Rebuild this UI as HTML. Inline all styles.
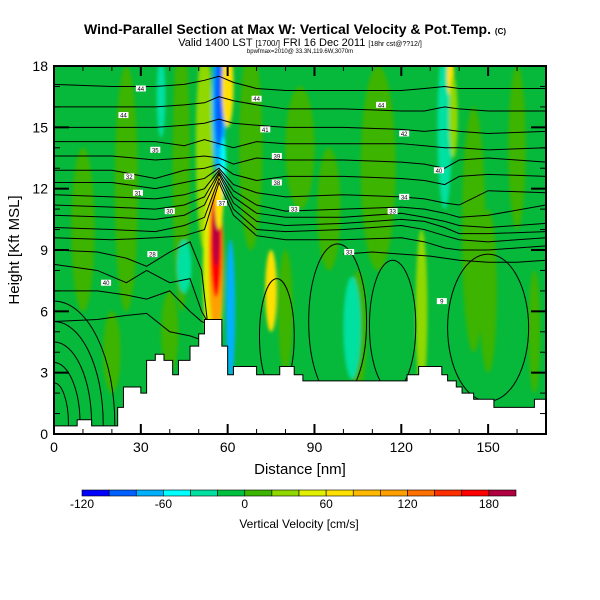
<!DOCTYPE html>
<html><head><meta charset="utf-8"><style>
body{margin:0;background:#fff;}
svg{display:block;font-family:"Liberation Sans",Arial,sans-serif;}
</style></head><body>
<svg id="chart" width="600" height="600" viewBox="0 0 600 600">
<defs>
<clipPath id="plotclip"><rect x="54" y="66" width="492" height="368"/></clipPath>
<filter id="blur" x="-50%" y="-50%" width="200%" height="200%"><feGaussianBlur stdDeviation="1.5"/></filter>
</defs>
<text x="295" y="34" text-anchor="middle" font-size="14" font-weight="bold">Wind-Parallel Section at Max W: Vertical Velocity &amp; Pot.Temp. <tspan font-size="8">(C)</tspan></text>
<text x="300" y="46" text-anchor="middle" font-size="11">Valid 1400 LST <tspan font-size="8">[1700/]</tspan> FRI 16 Dec 2011 <tspan font-size="7">[18hr cst@??12/]</tspan></text>
<text x="300" y="53" text-anchor="middle" font-size="6">bpwfmax=2010@ 33.3N,119.6W,3070m</text>
<g id="field" clip-path="url(#plotclip)">
<rect x="54" y="66" width="492" height="368" fill="#06b93a"/>
<g id="blobs" filter="url(#blur)"></g>
</g>
<g id="contours" clip-path="url(#plotclip)"></g>
<polygon id="terrain" fill="#fff" stroke="#000" stroke-width="1"/>
<g id="labels"></g>
<rect x="54" y="66" width="492" height="368" fill="none" stroke="#000" stroke-width="2"/>
<g id="axes"></g>
<text x="300" y="474" text-anchor="middle" font-size="15">Distance [nm]</text>
<text transform="translate(19,250) rotate(-90)" text-anchor="middle" font-size="15">Height [Kft MSL]</text>
<g id="colorbar"></g>
<text x="299" y="528" text-anchor="middle" font-size="12">Vertical Velocity [cm/s]</text>
</svg>
<script>
const NS="http://www.w3.org/2000/svg";
// data arrays
const xTicks=[0,30,60,90,120,150];
const yTicks=[0,3,6,9,12,15,18];
const cbBounds=[-120,-100,-80,-60,-40,-20,0,20,40,60,80,100,120,140,160,180];
const cbColors=["#0000ff","#0060ff","#00b0ff","#00ffff","#00e0a0","#00c040","#3cb400","#90d800","#e0f000","#ffe000","#ffb800","#ffa000","#ff7000","#ff3000","#ff0000","#b00040"];
const cbLabels=[-120,-60,0,60,120,180];
// velocity blobs: x nm, height kft, half-width nm, half-height kft, value cm/s
const blobX=[25,44,52,68,80,85,105,112,127,145,160,166,40,20,45,103,135,37,61,57,57,58.5,55,56,56,56,57,60,75,137,138,10,95,150];
const blobY=[12,13,14,14,6,14,5,13,6,10,14,5,5,4,8.2,5.2,15,16.5,6,16,16.5,13,8,8.5,9.3,9.8,11.5,17,7,17.5,15.5,10,11,7];
const blobW=[4,3,3,4,2.5,5,3,6,2,4,3,2,3,3,2.5,3,2.5,1.5,1.6,2.4,1.4,1,3.5,2.6,2,1.1,1.5,2,2,1.2,1.5,4,4,3];
const blobH=[6,7,5,5,3,3,3,5,4,6,4,3,2,2,1.3,2.5,4,2,3.5,3.5,2.5,1.5,4.5,3.6,2.6,1.6,1.5,2,2,1,2,4,3,4];
const blobV=[10,10,25,10,15,10,10,10,30,10,10,10,15,10,-30,-30,-40,-30,-70,-70,-100,-60,40,110,170,190,60,60,60,70,30,10,10,10];
// theta contour lines: heights (kft) at contourXs
const contourXs=[0,20,35,45,52,57,62,70,80,100,120,128,135,140,150,170];
const L1=[17.1,17.0,17.0,17.1,17.3,17.5,17.2,16.9,16.8,16.8,16.8,16.9,17.0,16.9,16.9,16.9];
const L2=[16.0,16.0,16.0,16.1,16.2,16.5,16.3,16.1,15.9,15.9,15.8,15.8,16.0,15.9,15.8,15.8];
const L3=[15.0,15.0,15.0,15.1,15.2,15.4,15.2,15.1,15.0,15.0,14.9,14.8,14.9,14.8,14.7,14.8];
const L4=[14.3,14.3,14.3,14.1,14.4,14.2,14.0,14.3,14.2,14.2,14.2,14.1,14.0,14.0,13.9,14.0];
const L5=[13.6,13.6,13.4,13.5,13.6,13.5,13.2,13.5,13.4,13.4,13.3,13.2,13.0,13.4,13.5,13.3];
const L6=[12.9,12.9,12.5,12.9,13.0,13.2,12.7,12.4,12.6,12.6,12.5,12.4,12.2,12.6,12.7,12.6];
const L7=[12.3,12.3,12.0,12.3,12.5,13.0,12.2,11.8,11.6,11.7,11.6,11.5,11.3,11.2,11.9,11.8];
const L8=[11.7,11.6,11.5,11.7,12.0,12.9,11.9,11.2,10.9,11.0,11.1,11.0,10.8,10.6,10.7,11.2];
const L9=[11.2,11.1,11.0,11.2,11.6,12.8,11.6,10.8,10.6,10.6,10.8,10.6,10.4,10.2,10.1,10.3];
const L10=[10.7,10.6,10.5,10.7,11.2,12.7,11.3,10.4,10.2,10.3,10.5,10.4,10.1,9.8,9.8,9.9];
const L11=[10.1,10.0,9.9,10.2,10.6,12.5,11.0,10.0,9.9,10.0,10.2,10.0,9.7,9.5,9.4,9.6];
const L12=[9.6,9.5,9.6,9.7,10.0,12.3,10.7,9.7,9.5,9.5,9.6,9.4,9.1,9.0,9.0,9.2];
const lowerXs=[0,15,25,32,40,47,51,53];
const L13=[9.0,8.9,8.6,8.2,8.9,9.4,8.0,5.5];
const L14=[8.3,8.0,7.4,8.0,7.4,7.6,6.0,5.5];
const L15=[7.0,7.0,6.8,6.6,7.0,6.0,5.5,5.4];
const L16=[5.5,5.6,5.8,5.9,5.0,4.8,4.6,4.5];
const rightXs=[100,110,120,130,140,150,160,170];
const R1=[8.8,8.9,8.8,8.7,8.5,8.4,8.4,8.5];
// closed loops: x, kft, half-width nm, half-height kft
const loopX=[77,98,117,150,0,0,0,0,0];
const loopY=[4.8,5.5,5.3,5.2,0.5,0.5,0.5,0.5,0.5];
const loopW=[6,10,8,14,5,9,13,17,21];
const loopH=[2.8,3.8,3.2,3.6,2,3,4,5,6];
// terrain heights (kft) at step edges
const terrX=[0,8,13,20,22,24,30,32,35,38,41,43,47,50,52,58,60,62,70,78,83,86,122,126,134,136,139,141,145,152,166,170];
const terrY=[0.4,0.7,0.4,0.4,1.3,2.3,2.0,3.6,3.9,3.6,2.9,3.6,4.3,4.9,5.6,4.3,2.9,3.3,2.9,3.3,2.9,2.6,2.9,3.3,2.9,2.6,2.3,2.0,1.7,1.3,1.7,1.3];
const labelX=[30,24,35,26,29,40,34,18,70,73,77,77,58,83,102,113,121,121,117,133,134];
const labelY=[16.9,15.6,13.9,12.6,11.8,10.9,8.8,7.4,16.4,14.9,13.6,12.3,11.3,11.0,8.9,16.1,14.7,11.6,10.9,12.9,6.5];
const labelT=["44","44","35","32","31","30","28","40","44","41","39","38","37","33","33","44","42","34","33","40","9"];

const X=v=>54+v*492/170, Y=v=>434-v*368/18;
function cbColor(v){let c=cbColors[0];for(let i=0;i<cbBounds.length;i++){if(v>=cbBounds[i])c=cbColors[i];}return c;}
const blobs=document.getElementById('blobs');
blobX.forEach((bx,i)=>{
 const e=document.createElementNS(NS,'ellipse');
 e.setAttribute('cx',X(bx));e.setAttribute('cy',Y(blobY[i]));
 e.setAttribute('rx',blobW[i]*492/170);e.setAttribute('ry',blobH[i]*368/18);
 e.setAttribute('fill',cbColor(blobV[i]));
 
 
 blobs.appendChild(e);
});
const cg=document.getElementById('contours');
function line(xs,ys){
 const p=document.createElementNS(NS,'polyline');
 p.setAttribute('points',xs.map((x,i)=>X(x)+','+Y(ys[i])).join(' '));
 p.setAttribute('fill','none');p.setAttribute('stroke','#000');p.setAttribute('stroke-width','1');
 
 
 cg.appendChild(p);
}
[L1,L2,L3,L4,L5,L6,L7,L8,L9,L10,L11,L12].forEach(l=>line(contourXs,l));
[L13,L14,L15,L16].forEach(l=>line(lowerXs,l));
line(rightXs,R1);
loopX.forEach((lx,i)=>{
 const e=document.createElementNS(NS,'ellipse');
 e.setAttribute('cx',X(lx));e.setAttribute('cy',Y(loopY[i]));
 e.setAttribute('rx',loopW[i]*492/170);e.setAttribute('ry',loopH[i]*368/18);
 e.setAttribute('fill','none');e.setAttribute('stroke','#000');
 
 
 cg.appendChild(e);
});
// terrain
let pts=[];
terrX.forEach((x,i)=>{if(i>0)pts.push(X(x)+','+Y(terrY[i-1]));pts.push(X(x)+','+Y(terrY[i]));});
pts.push(X(170)+','+Y(0));pts.push(X(0)+','+Y(0));
document.getElementById('terrain').setAttribute('points',pts.join(' '));
// labels
const lg=document.getElementById('labels');
labelX.forEach((lx,i)=>{
 const r=document.createElementNS(NS,'rect');
 r.setAttribute('x',X(lx)-5);r.setAttribute('y',Y(labelY[i])-3);r.setAttribute('width',10);r.setAttribute('height',6);r.setAttribute('fill','#fff');
 
 
 lg.appendChild(r);
 const t=document.createElementNS(NS,'text');
 t.setAttribute('x',X(lx));t.setAttribute('y',Y(labelY[i])+2.5);t.setAttribute('font-size','6');t.setAttribute('text-anchor','middle');
 t.textContent=labelT[i];
 
 
 lg.appendChild(t);
});
// axes
const ag=document.getElementById('axes');
function ln(x1,y1,x2,y2,w){const l=document.createElementNS(NS,'line');l.setAttribute('x1',x1);l.setAttribute('y1',y1);l.setAttribute('x2',x2);l.setAttribute('y2',y2);l.setAttribute('stroke','#000');l.setAttribute('stroke-width',w);
 
 
 ag.appendChild(l);}
for(let v=0;v<=170;v+=10){const maj=v%30===0;const len=maj?10:5;ln(X(v),434,X(v),434-len,maj?2:1);ln(X(v),66,X(v),66+len,maj?2:1);}
for(let v=0;v<=18;v++){const maj=v%3===0;const len=maj?15:6;ln(54,Y(v),54+len,Y(v),maj?2:1);ln(546,Y(v),546-len,Y(v),maj?2:1);}
xTicks.forEach(v=>{const t=document.createElementNS(NS,'text');t.setAttribute('x',X(v));t.setAttribute('y',452);t.setAttribute('text-anchor','middle');t.setAttribute('font-size','14');t.textContent=v;
 
 
 ag.appendChild(t);});
yTicks.forEach(v=>{const t=document.createElementNS(NS,'text');t.setAttribute('x',48);t.setAttribute('y',Y(v)+5);t.setAttribute('text-anchor','end');t.setAttribute('font-size','14');t.textContent=v;
 
 
 ag.appendChild(t);});
// colorbar
const cb=document.getElementById('colorbar');
const cbX=v=>82+(v+120)*(516-82)/320;
cbBounds.forEach((b,i)=>{const r=document.createElementNS(NS,'rect');r.setAttribute('x',cbX(b));r.setAttribute('y',490);r.setAttribute('width',cbX(b+20)-cbX(b));r.setAttribute('height',6);r.setAttribute('fill',cbColors[i]);r.setAttribute('stroke','#000');r.setAttribute('stroke-width','0.6');
 
 
 cb.appendChild(r);});
cbLabels.forEach(v=>{const t=document.createElementNS(NS,'text');t.setAttribute('x',cbX(v));t.setAttribute('y',508);t.setAttribute('text-anchor','middle');t.setAttribute('font-size','12');t.textContent=v;
 
 
 cb.appendChild(t);});
</script>
</body></html>
